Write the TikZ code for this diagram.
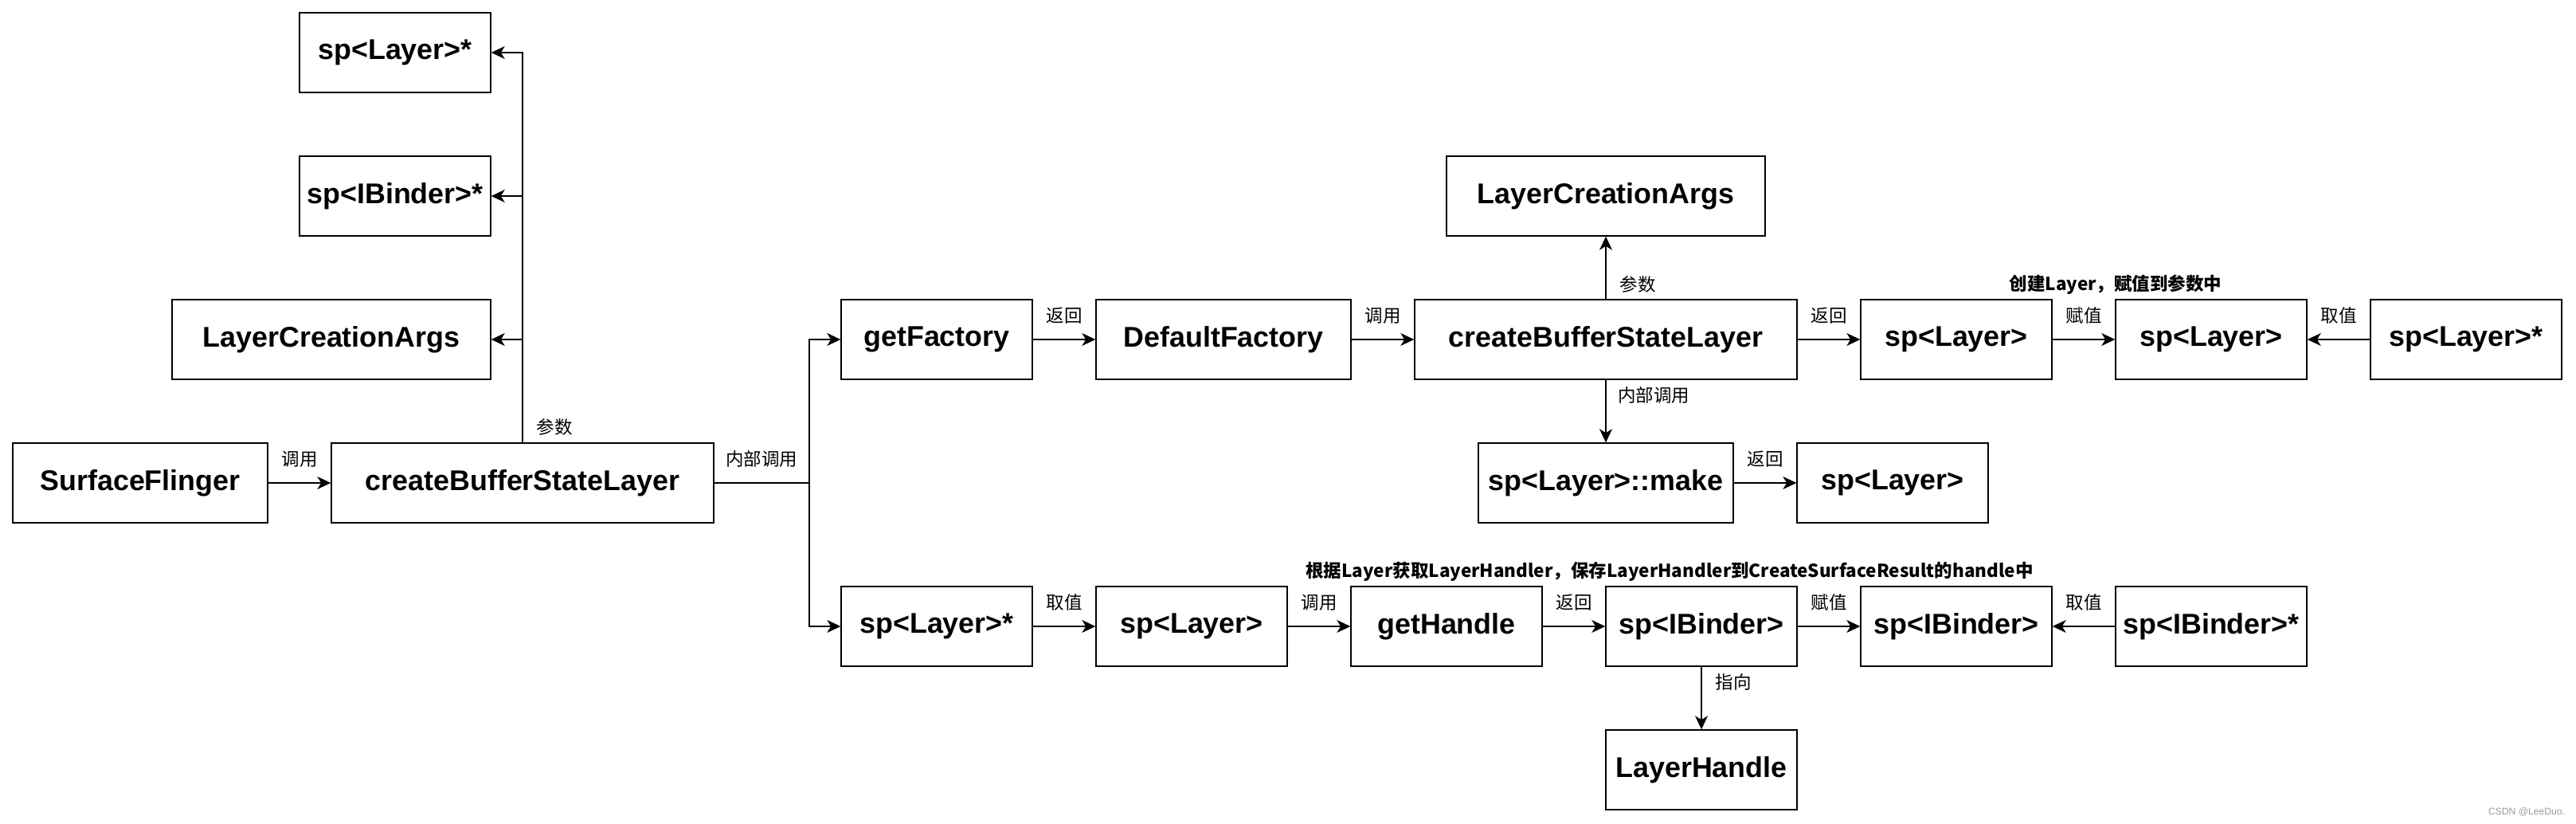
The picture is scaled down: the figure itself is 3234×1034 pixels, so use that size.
\documentclass[tikz,border=0pt]{standalone}
\usepackage{fontspec}
\setmainfont{Liberation Sans}
\newfontfamily\cjk{Noto Sans CJK SC}
\usetikzlibrary{arrows.meta}
\tikzset{
  box/.style={draw=black, line width=0.8pt, rectangle, minimum height=2cm, inner sep=0pt,
    font=\bfseries\fontsize{20.4pt}{24pt}\selectfont},
  w240/.style={box, minimum width=4.8cm},
  w320/.style={box, minimum width=6.4cm},
  w400/.style={box, minimum width=8cm},
  w480/.style={box, minimum width=9.6cm},
  conn/.style={draw=black, line width=0.8pt, -{Stealth[length=9.7pt, width=9.1pt, inset=2.8pt]}},
  lbl/.style={inner sep=0pt, font=\cjk\fontsize{12.8pt}{15pt}\selectfont},
  blbl/.style={inner sep=0pt, font=\cjk\bfseries\fontsize{12.8pt}{15pt}\selectfont},
}
\begin{document}
\begin{tikzpicture}[x=0.02cm, y=-0.02cm]
\useasboundingbox (0,0) rectangle (3234,1034);
% left part
\node[w320] (sf) at (176,606) {SurfaceFlinger};
\node[w480] (cb1) at (656,606) {createBufferStateLayer};
\node[w240] (lstar1) at (496,66) {sp<Layer>*};
\node[w240] (bstar1) at (496,246) {sp<IBinder>*};
\node[w400] (lca1) at (416,426) {LayerCreationArgs};
% row 1
\node[w240] (gf) at (1176,426) {getFactory};
\node[w320] (df) at (1536,426) {DefaultFactory};
\node[w480] (cb2) at (2016,426) {createBufferStateLayer};
\node[w400] (lca2) at (2016,246) {LayerCreationArgs};
\node[w240] (spl1) at (2456,426) {sp<Layer>};
\node[w240] (spl2) at (2776,426) {sp<Layer>};
\node[w240] (lstar2) at (3096,426) {sp<Layer>*};
% row 2
\node[w320] (mk) at (2016,606) {sp<Layer>::make};
\node[w240] (spl3) at (2376,606) {sp<Layer>};
% row 3
\node[w240] (lstar3) at (1176,786) {sp<Layer>*};
\node[w240] (spl4) at (1496,786) {sp<Layer>};
\node[w240] (gh) at (1816,786) {getHandle};
\node[w240] (ib1) at (2136,786) {sp<IBinder>};
\node[w240] (ib2) at (2456,786) {sp<IBinder>};
\node[w240] (bstar2) at (2776,786) {sp<IBinder>*};
\node[w240] (lh) at (2136,966) {LayerHandle};
\coordinate (br) at (1016,606);
% connectors
\draw[conn] (sf) -- (cb1);
\draw[conn] (cb1.north) |- (lstar1.east);
\draw[conn] (cb1.north) |- (bstar1.east);
\draw[conn] (cb1.north) |- (lca1.east);
\draw[line width=0.8pt] (cb1.east) -- (br);
\draw[conn] (br) |- (gf.west);
\draw[conn] (br) |- (lstar3.west);
\draw[conn] (gf) -- (df);
\draw[conn] (df) -- (cb2);
\draw[conn] (cb2) -- (lca2);
\draw[conn] (cb2) -- (mk);
\draw[conn] (mk) -- (spl3);
\draw[conn] (cb2) -- (spl1);
\draw[conn] (spl1) -- (spl2);
\draw[conn] (lstar2) -- (spl2);
\draw[conn] (lstar3) -- (spl4);
\draw[conn] (spl4) -- (gh);
\draw[conn] (gh) -- (ib1);
\draw[conn] (ib1) -- (ib2);
\draw[conn] (bstar2) -- (ib2);
\draw[conn] (ib1) -- (lh);
% labels
\node[lbl] at (376,576) {调用};
\node[lbl] at (696,536) {参数};
\node[lbl] at (956,576) {内部调用};
\node[lbl] at (1336,396) {返回};
\node[lbl] at (1736,396) {调用};
\node[lbl] at (2056,357) {参数};
\node[lbl] at (2076,496) {内部调用};
\node[lbl] at (2296,396) {返回};
\node[lbl] at (2616,396) {赋值};
\node[lbl] at (2936,396) {取值};
\node[blbl] at (2656,357) {创建Layer，赋值到参数中};
\node[lbl] at (2216,576) {返回};
\node[lbl] at (1336,756) {取值};
\node[lbl] at (1656,756) {调用};
\node[lbl] at (1976,756) {返回};
\node[lbl] at (2296,756) {赋值};
\node[lbl] at (2616,756) {取值};
\node[blbl] at (2096,717) {根据Layer获取LayerHandler，保存LayerHandler到CreateSurfaceResult的handle中};
\node[lbl] at (2176,856) {指向};
\node[inner sep=0pt, text=black!40, font=\fontsize{6.9pt}{8pt}\selectfont] at (3172,1019) {CSDN @LeeDuo.};
\end{tikzpicture}
\end{document}
